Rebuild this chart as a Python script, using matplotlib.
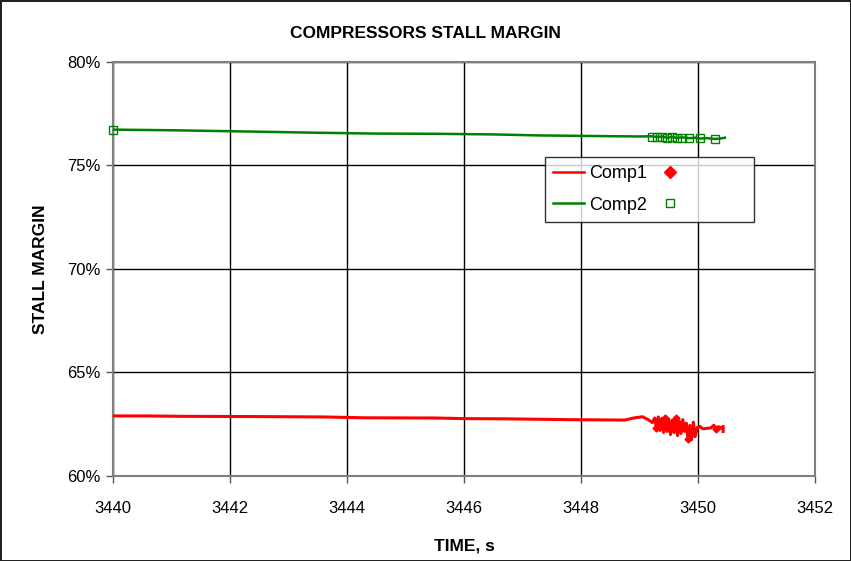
import matplotlib
matplotlib.use("Agg")
import matplotlib.pyplot as plt
from matplotlib.lines import Line2D
from matplotlib.ticker import FuncFormatter

plt.rcParams['font.family'] = ['Liberation Sans Narrow', 'Liberation Sans', 'DejaVu Sans']

# ---- data ----
comp1_t = [3440.0, 3440.6, 3441.2, 3442.4, 3443.6, 3444.3, 3445.5, 3446.0, 3446.7, 3447.8,
           3448.75, 3448.9, 3449.05, 3449.15, 3449.22, 3449.26, 3449.29, 3449.32, 3449.35,
           3449.38, 3449.41, 3449.44, 3449.47, 3449.50, 3449.53, 3449.56, 3449.59, 3449.62,
           3449.65, 3449.68, 3449.71, 3449.74, 3449.77, 3449.80, 3449.83, 3449.86, 3449.89,
           3449.92, 3449.95, 3449.99, 3450.03, 3450.08, 3450.15, 3450.22, 3450.27, 3450.31,
           3450.35, 3450.40, 3450.43, 3450.43]
comp1_v = [62.90, 62.90, 62.88, 62.87, 62.85, 62.81, 62.80, 62.77, 62.76, 62.72,
           62.70, 62.80, 62.86, 62.72, 62.58, 62.80, 62.30, 62.85, 62.20, 62.78,
           62.10, 62.82, 62.15, 62.75, 62.00, 62.70, 62.10, 62.78, 61.95, 62.65,
           62.05, 62.72, 62.15, 62.55, 61.78, 62.45, 61.75, 62.60, 61.90, 62.35,
           62.40, 62.28, 62.30, 62.32, 62.45, 62.28, 62.38, 62.30, 62.40, 62.15]
comp1_mark_t = [3449.29, 3449.44, 3449.62, 3449.83, 3450.31]
comp1_mark_v = [62.30, 62.82, 62.78, 61.78, 62.28]

comp2_t = [3440.0, 3441.0, 3442.3, 3443.5, 3444.5, 3445.5, 3446.5, 3447.3, 3448.3, 3449.0,
           3449.2, 3449.3, 3449.38, 3449.47, 3449.56, 3449.64, 3449.73, 3449.85, 3449.95,
           3450.03, 3450.15, 3450.29, 3450.40, 3450.46]
comp2_v = [76.72, 76.69, 76.63, 76.57, 76.53, 76.52, 76.49, 76.44, 76.41, 76.39,
           76.40, 76.36, 76.39, 76.33, 76.37, 76.32, 76.35, 76.31, 76.33, 76.29,
           76.31, 76.27, 76.30, 76.33]
comp2_mark_t = [3440.0, 3449.22, 3449.30, 3449.38, 3449.47, 3449.56, 3449.64, 3449.73,
                3449.85, 3450.03, 3450.29]
comp2_mark_v = [76.72, 76.38, 76.37, 76.38, 76.34, 76.36, 76.33, 76.34, 76.31, 76.30, 76.27]

x_ticks = [3440, 3442, 3444, 3446, 3448, 3450, 3452]
y_ticks = [60, 65, 70, 75, 80]

# ---- figure ----
fig = plt.figure(figsize=(8.51, 5.61), dpi=100, edgecolor='#222222', linewidth=2)
ax = fig.add_axes([113/851, 85/561, (815-113)/851, (476-61.7)/561])

ax.plot(comp1_t, comp1_v, color='#ff0000', lw=2.2, zorder=3)
ax.plot(comp1_mark_t, comp1_mark_v, ls='none', marker='D', ms=3.5, color='#ff0000', zorder=4)
ax.plot(comp2_t, comp2_v, color='#008000', lw=1.8, zorder=3)
ax.plot(comp2_mark_t, comp2_mark_v, ls='none', marker='s', ms=6, mfc='none', mec='#008000',
        mew=1.0, zorder=4, clip_on=False)

ax.set_xlim(3440, 3452)
ax.set_ylim(60, 80)
ax.set_xticks(x_ticks)
ax.set_yticks(y_ticks)
ax.yaxis.set_major_formatter(FuncFormatter(lambda v, p: f"{v:.0f}%"))
ax.grid(True, color='black', lw=1.0)
ax.set_axisbelow(True)
for s in ax.spines.values():
    s.set_color('#808080')
    s.set_linewidth(1.5)
ax.tick_params(axis='both', direction='out', length=5, width=1, color='#555555',
               labelsize=12, pad=4)
ax.tick_params(axis='x', pad=13)

fig.text(0.5, 1 - 33/561, 'COMPRESSORS STALL MARGIN', fontsize=12.5, fontweight='bold',
         ha='center', va='center')
ax.set_xlabel('TIME, s', fontsize=12.5, fontweight='bold', labelpad=16)
ax.set_ylabel('STALL MARGIN', fontsize=12.5, fontweight='bold', labelpad=14)

handles = [Line2D([], [], color='#ff0000', lw=1.8),
           Line2D([], [], color='#008000', lw=1.8),
           Line2D([], [], ls='none', marker='D', ms=6, color='#ff0000'),
           Line2D([], [], ls='none', marker='s', ms=6, mfc='none', mec='#008000')]
labels = ['Comp1', 'Comp2', ' ' * 11, ' ' * 11]
leg = fig.legend(handles, labels, ncol=2, loc='upper left',
                 bbox_to_anchor=(545/851, 1 - 157/561), borderaxespad=0, fontsize=13,
                 frameon=True, fancybox=False, edgecolor='black', handlelength=1.7,
                 handletextpad=0.3, columnspacing=0.4, borderpad=0.45, labelspacing=0.8)
leg.get_frame().set_linewidth(1.0)

fig.savefig('out.png', dpi=100)
